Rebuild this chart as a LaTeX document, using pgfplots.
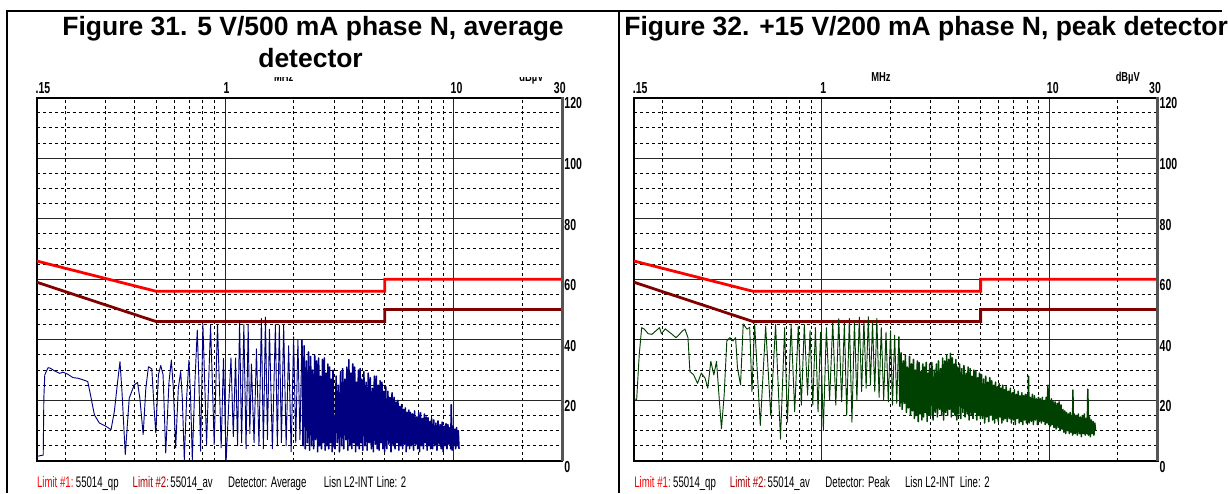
\documentclass[border=0pt]{standalone}
\usepackage{fontspec}
\usepackage{pgfplots}
\pgfplotsset{compat=1.18}
\setmainfont{Liberation Sans}
\newfontfamily\narrowA[FakeStretch=0.66]{Liberation Sans}
\newfontfamily\narrowU[FakeStretch=0.72]{Liberation Sans}
\newfontfamily\narrowB[FakeStretch=0.63]{Liberation Sans}
\newcommand\tickfont{\narrowA\bfseries\fontsize{12pt}{13pt}\selectfont}
\newcommand\unitfont{\narrowU\bfseries\fontsize{9.8pt}{11pt}\selectfont}
\newcommand\legfont{\narrowB\fontsize{11.5pt}{13pt}\selectfont}
\newcommand\titlefont{\fontsize{19.95pt}{24pt}\selectfont\bfseries}
\definecolor{limA}{RGB}{255,0,0}
\definecolor{limB}{RGB}{128,0,0}
\definecolor{legB}{RGB}{170,0,0}
\definecolor{trblue}{RGB}{0,0,128}
\definecolor{trgreen}{RGB}{0,64,0}
\definecolor{edgegray}{RGB}{85,85,85}
\begin{document}
\begin{tikzpicture}
\begin{scope}[x=0.75pt,y=-0.75pt]
\useasboundingbox (0,0) rectangle (1228,495);
\fill[white] (0,0) rectangle (1228,495);
\end{scope}
% ---------------- left panel
\begin{axis}[
  scale only axis, width=396pt, height=273.75pt, anchor=south west, at={(27.75pt,-347.25pt)},
  xmode=log, xmin=0.15, xmax=30, ymin=0, ymax=120,
  xtick={1,10}, xticklabels={,,},
  minor xtick={0.2,0.3,0.4,0.5,0.6,0.7,0.8,0.9,2,3,4,5,6,7,8,9,20},
  ytick={0,20,40,60,80,100,120},
  minor ytick={5,10,15,25,30,35,45,50,55,65,70,75,85,90,95,105,110,115},
  major tick length=0pt, minor tick length=0pt,
  grid=both,
  major grid style={black!85, line width=0.75pt},
  minor grid style={black, line width=0.7pt, dash pattern=on 2.25pt off 2.25pt},
  axis line style={black, line width=1.5pt},
  yticklabel pos=right,
  yticklabel style={font=\tickfont, anchor=north west, inner sep=0pt, xshift=1.3pt, /pgf/number format/assume math mode=true},
]
\addplot[limA, line width=2.1pt] coordinates {(0.15,66)(0.5,56)(5,56)(5,60)(30,60)};
\addplot[limB, line width=2.1pt] coordinates {(0.15,59)(0.5,46)(5,46)(5,50)(30,50)};
\addplot[trblue, line width=0.7pt, line join=round] coordinates {
(0.150,1.5)(0.160,1.9)(0.161,20.7)(0.1625,28.4)(0.168,30.8)(0.1718,30.6)(0.1796,29.7)(0.1888,28.9)(0.1952,29.3)(0.2052,28.6)(0.2158,27.5)(0.2269,27.3)(0.2385,26.8)(0.2507,26.2)(0.2593,20.7)(0.268,15.2)(0.2818,12.5)(0.3014,11.4)(0.3169,10.3)(0.3277,16.3)(0.3388,26.2)(0.3469,32.8)(0.3539,22.9)(0.3659,2.1)(0.3808,20.7)(0.4004,25.1)(0.414,25.9)(0.4238,20.7)(0.4382,8.7)(0.4501,24.0)(0.4623,31.1)(0.478,30.4)(0.4893,17.4)(0.4975,9.2)(0.511,28.4)(0.5231,31.5)(0.5356,28.4)(0.55,2.6)(0.5687,26.2)(0.5822,33.3)(0.594,24.0)(0.6081,4.3)(0.6246,24.0)(0.6395,29.5)(0.6502,20.7)(0.6634,0.4)(0.6792,20.7)(0.6953,33.3)(0.7071,20.7)(0.719,0.4)(0.7385,26.2)(0.7561,43.2)(0.7688,26.2)(0.7817,3.2)(0.8002,45.1)(0.8164,24.0)(0.8303,5.4)(0.8642,44.8)(0.8817,24.0)(0.8966,5.4)(0.927,45.1)(0.9458,24.0)(0.9619,4.3)(0.9847,33.9)(1.0115,0.1)
(1.04,20)(1.062,34)(1.087,8)(1.112,34)(1.135,5)(1.158,46.4)(1.182,6)(1.209,45)(1.236,4)(1.263,44.8)(1.284,9)(1.305,32)(1.34,6)(1.373,37)(1.408,5)(1.443,47)(1.472,4)(1.503,47.5)(1.534,7)(1.565,43.5)(1.612,4)(1.662,45)(1.695,5)(1.729,44.8)(1.766,6)(1.806,45)(1.852,5)(1.899,38)(1.948,3)(1.997,41)(2.04,6)(2.085,40)(2.128,7)(2.171,40)
};
\addplot[trblue, line width=1.15pt, line join=round] coordinates {
(2.171,40)(2.195,5)(2.22,38)(2.245,4)(2.27,33)(2.295,6)(2.32,36)(2.345,3.5)(2.37,34.5)(2.395,5)(2.42,30)(2.445,4)(2.47,35)(2.495,7)(2.52,33)(2.545,3)(2.57,34)(2.595,5)(2.62,28)(2.645,4)(2.67,33.5)(2.695,6)(2.72,34)(2.745,3.5)(2.77,29)(2.795,5)(2.82,32)(2.845,4)(2.87,31)(2.895,6)(2.92,27)(2.945,3)(2.97,30)(2.995,5)
(3.03,4)(3.065,28)(3.10,6)(3.135,25)(3.17,3)(3.205,29.5)(3.24,5)(3.275,30.5)(3.31,4)(3.345,27)(3.38,7)(3.415,31)(3.45,3.5)(3.485,33.5)(3.52,5)(3.555,29)(3.59,4)(3.625,32)(3.66,6)(3.695,31)(3.73,3)(3.765,26)(3.80,5)(3.835,30)(3.87,4)(3.905,30.5)(3.94,6)(3.975,27)(4.01,3.5)
(4.055,29.5)(4.10,5)(4.145,26)(4.19,3.5)(4.235,29)(4.28,6)(4.325,27.5)(4.37,4)(4.415,24)(4.46,3)(4.505,28)(4.55,5.5)(4.595,28)(4.64,4)(4.685,25)(4.73,3.5)(4.775,26.5)(4.82,6)(4.865,26)(4.91,4)(4.955,23)(5.00,3)
(5.055,24.5)(5.11,4)(5.165,23)(5.22,5.5)(5.275,21)(5.33,3)(5.385,22.5)(5.44,5)(5.495,21)(5.55,4)(5.605,19.5)(5.66,6)(5.715,20)(5.77,3.5)(5.825,18)(5.88,5)(5.935,18.6)(5.99,4)(6.045,17)(6.10,5.5)(6.155,17.5)(6.21,3)(6.265,16)(6.32,5)(6.375,16.8)(6.43,4)(6.485,16)
(6.55,5)(6.62,15.5)(6.69,3.5)(6.76,16.5)(6.83,5.5)(6.90,14.5)(6.97,4)(7.04,16)(7.11,3)(7.18,15.9)(7.25,5)(7.32,14)(7.39,4)(7.46,15.5)(7.53,6)(7.60,14.5)(7.67,3.5)(7.74,14.3)(7.81,5)(7.88,13)(7.95,4)(8.02,14)
(8.11,4)(8.20,13.5)(8.29,5)(8.38,12.5)(8.47,3.5)(8.56,13.2)(8.65,5.5)(8.74,12)(8.83,4)(8.92,12.8)(9.01,3)(9.10,11.5)(9.19,5)(9.28,12.3)(9.37,4)(9.46,12)(9.55,5.5)(9.64,11)(9.73,4)(9.78,18.6)(9.87,3.5)(9.96,11.5)(10.05,5)(10.14,10.5)(10.23,4)(10.32,11)(10.41,5)(10.50,10)(10.58,4)
};
\end{axis}
% ---------------- right panel
\begin{axis}[
  scale only axis, width=394.5pt, height=273.75pt, anchor=south west, at={(477.75pt,-347.25pt)},
  xmode=log, xmin=0.15, xmax=30, ymin=0, ymax=120,
  xtick={1,10}, xticklabels={,,},
  minor xtick={0.2,0.3,0.4,0.5,0.6,0.7,0.8,0.9,2,3,4,5,6,7,8,9,20},
  ytick={0,20,40,60,80,100,120},
  minor ytick={5,10,15,25,30,35,45,50,55,65,70,75,85,90,95,105,110,115},
  major tick length=0pt, minor tick length=0pt,
  grid=both,
  major grid style={black!85, line width=0.75pt},
  minor grid style={black, line width=0.7pt, dash pattern=on 2.25pt off 2.25pt},
  axis line style={black, line width=1.5pt},
  yticklabel pos=right,
  yticklabel style={font=\tickfont, anchor=north west, inner sep=0pt, xshift=1.3pt, /pgf/number format/assume math mode=true},
]
\addplot[limA, line width=2.1pt] coordinates {(0.15,66)(0.5,56)(5,56)(5,60)(30,60)};
\addplot[limB, line width=2.1pt] coordinates {(0.15,59)(0.5,46)(5,46)(5,50)(30,50)};
\addplot[trgreen, line width=0.7pt, line join=round] coordinates {
(0.150,20.5)(0.154,20.3)(0.158,35)(0.162,44)(0.1664,43.5)(0.173,42)(0.1798,41.8)(0.1867,42.9)(0.1941,44)(0.1979,42)(0.2056,43.6)(0.212,42.8)(0.2204,41.8)(0.229,40.7)(0.2353,41.5)(0.2444,42.9)(0.251,43.5)(0.2588,40.7)(0.2639,29.5)(0.2742,28.4)(0.285,25.6)(0.2962,29)(0.3078,27.3)(0.3162,24)(0.3261,32.9)(0.3363,28.4)(0.3455,32.9)(0.355,20.6)(0.3632,10.6)(0.3732,21.7)(0.3834,39.6)(0.3954,40.7)(0.4078,39.6)(0.419,40.7)(0.4271,30.7)(0.4405,25.1)(0.4526,45.2)(0.4703,43.5)(0.4832,44.1)(0.4945,22.9)(0.508,45.2)
(0.538,11.7)(0.568,44.5)(0.598,15)(0.628,45)(0.66,7.2)(0.688,44)(0.708,12.8)(0.735,45)(0.762,16.2)(0.79,44.5)(0.815,18.4)(0.84,45)(0.868,21.7)(0.89,43)(0.915,18.4)(0.94,44)(0.965,16.2)(0.99,42.5)(1.018,10)(1.05,44)(1.085,20)(1.12,46)(1.155,18.4)(1.19,47)(1.225,19.5)(1.26,45.5)(1.29,15)(1.325,47)(1.36,12.8)(1.395,46)(1.43,20)(1.465,47.5)(1.5,22.9)(1.535,46.5)(1.57,24)(1.605,47.6)(1.64,25)(1.675,46)(1.713,22.9)(1.75,47)(1.79,21)(1.83,44)(1.875,20)(1.92,42.5)(1.965,19.5)(2.01,43)(2.05,18.4)(2.095,41.5)(2.14,19)(2.185,41)
};
\addplot[trgreen, line width=1.15pt, line join=round] coordinates {
(2.185,41)(2.21,18)(2.235,35.7)(2.26,17)(2.285,33)(2.31,19)(2.335,35)(2.36,16)(2.385,31)(2.41,17.5)(2.435,34.5)(2.46,15)(2.485,32)(2.51,16.5)(2.535,33.5)(2.56,14)(2.585,30)(2.61,15)(2.635,33)(2.66,13)(2.685,32.5)(2.71,15.5)(2.735,29.5)(2.76,13.5)(2.785,32)(2.81,14.5)(2.835,31)(2.86,16)(2.885,32.5)(2.91,13)(2.935,29)(2.96,15)(2.985,32)
(3.02,15)(3.055,32.5)(3.09,13.5)(3.125,30)(3.16,16)(3.195,32)(3.23,14.5)(3.265,33)(3.30,17)(3.335,30.5)(3.37,15)(3.405,34)(3.44,13.5)(3.475,33)(3.51,16)(3.545,35)(3.58,15)(3.615,33.5)(3.65,17)(3.685,35.5)(3.72,14.5)(3.755,34)(3.79,16)(3.825,32)(3.86,15)(3.895,33.5)(3.93,13.5)(3.965,31)(4.00,15.5)
(4.045,32)(4.09,14)(4.135,30.5)(4.18,16)(4.225,31.5)(4.27,14.5)(4.315,29)(4.36,15.5)(4.405,31)(4.45,13.5)(4.495,30.5)(4.54,15)(4.585,28)(4.63,14)(4.675,30)(4.72,16)(4.765,29.5)(4.81,13.5)(4.855,27.5)(4.90,15)(4.945,29)(4.99,14)
(5.045,28.5)(5.10,14)(5.155,27)(5.21,12.5)(5.265,28)(5.32,14.5)(5.375,26)(5.43,13)(5.485,27.5)(5.54,15)(5.595,26.5)(5.65,13.5)(5.705,25)(5.76,12.5)(5.815,26)(5.87,14)(5.925,24.5)(5.98,13)(6.035,25.5)(6.09,14.5)(6.145,24)(6.20,12.5)(6.255,25)(6.31,13.5)(6.365,23.5)(6.42,14)(6.475,24.5)
(6.545,13)(6.615,23)(6.685,14)(6.755,24)(6.825,12.5)(6.895,22.5)(6.965,13.5)(7.035,23.5)(7.105,12)(7.175,22)(7.245,14)(7.315,23)(7.385,12.5)(7.455,21.5)(7.525,13)(7.595,22.5)(7.665,12)(7.735,21.5)(7.805,13.5)(7.875,22)(7.945,12.5)
(8.035,22)(8.08,13)(8.12,28)(8.17,12.5)(8.26,21)(8.35,13)(8.44,22)(8.53,12)(8.62,21.5)(8.71,13.5)(8.80,20.5)(8.89,12)(8.98,21)(9.07,13)(9.16,20.5)(9.25,12.5)(9.34,21)(9.43,13)(9.52,20)(9.61,12)(9.70,21)(9.79,12.5)(9.88,25)(9.97,12)(10.06,20)(10.15,11.5)(10.24,20.5)(10.33,12)(10.42,19.5)(10.51,11)
(10.62,19.5)(10.73,10.5)(10.84,19)(10.95,11)(11.06,19.5)(11.17,10)(11.28,18.5)(11.39,10.5)(11.50,17)(11.61,9.5)(11.72,16.5)(11.83,9)(11.94,16)(12.05,10)(12.16,15.5)(12.27,9)(12.38,16)(12.49,9.5)(12.60,15)(12.68,8.5)(12.72,23.4)(12.80,9)(12.91,15.5)(13.02,9)
(13.16,15)(13.30,8.5)(13.44,15.5)(13.58,9)(13.72,14.5)(13.86,8)(14.00,15)(14.14,9)(14.28,15.5)(14.42,8.5)(14.56,14)(14.70,9)(14.80,23.7)(14.90,8.5)(15.04,14.5)(15.18,8)(15.32,13.5)(15.46,9)(15.60,13)(15.74,8.5)(15.88,12.5)(16.0,10)
};
\end{axis}
\begin{scope}[x=0.75pt,y=-0.75pt]
% gray right edges of the plot frames
\draw[edgegray, line width=1.9pt] (565,97.5) -- (565,463.5);
\draw[edgegray, line width=1.9pt] (1163,97.5) -- (1163,463.5);
% frequency labels above the frames
\begin{scope}[every node/.style={font=\tickfont, inner sep=0pt}]
\node[anchor=base west] at (35.5,94) {.15};
\node[anchor=base west] at (224.5,94) {1};
\node[anchor=base west] at (452.5,94) {10};
\node[anchor=base east] at (568.5,94) {30};
\node[anchor=base west] at (635.5,94) {.15};
\node[anchor=base west] at (824,94) {1};
\node[anchor=base west] at (1051.5,94) {10};
\node[anchor=base east] at (1166.5,94) {30};
\end{scope}
\begin{scope}
\clip (30,77.5) rectangle (600,92);
\node[font=\unitfont, inner sep=0pt, anchor=base] at (285,82) {MHz};
\node[font=\unitfont, inner sep=0pt, anchor=base] at (534,82) {dBµV};
\end{scope}
\node[font=\unitfont, inner sep=0pt, anchor=base] at (885,82) {MHz};
\node[font=\unitfont, inner sep=0pt, anchor=base] at (1133,82) {dBµV};
% table borders
\draw[black, line width=1.5pt] (7,495) -- (7,11) -- (1228,11);
\draw[black, line width=1.5pt] (622,11) -- (622,495);
% titles
\node[font=\titlefont, inner sep=0pt, anchor=base] at (314.5,36) {Figure 31. 5 V/500 mA phase N, average};
\node[font=\titlefont, inner sep=0pt, anchor=base] at (312,68) {detector};
\node[font=\titlefont, inner sep=0pt, anchor=base west] at (627,36) {Figure 32. +15 V/200 mA phase N, peak detector};
% bottom legends
\begin{scope}[every node/.style={font=\legfont, inner sep=0pt, anchor=base west}]
\node[text=limA] at (37,490) {Limit \#1:};
\node at (76,490) {55014\_qp};
\node[text=legB] at (133,490) {Limit \#2:};
\node at (171,490) {55014\_av};
\node at (229,490) {Detector: Average};
\node at (325,490) {Lisn L2-INT};
\node at (378,490) {Line: 2};
\node[text=limA] at (637,490) {Limit \#1:};
\node at (676,490) {55014\_qp};
\node[text=legB] at (733,490) {Limit \#2:};
\node at (771,490) {55014\_av};
\node at (829,490) {Detector: Peak};
\node at (909,490) {Lisn L2-INT};
\node at (964,490) {Line: 2};
\end{scope}
\end{scope}
\end{tikzpicture}
\end{document}
